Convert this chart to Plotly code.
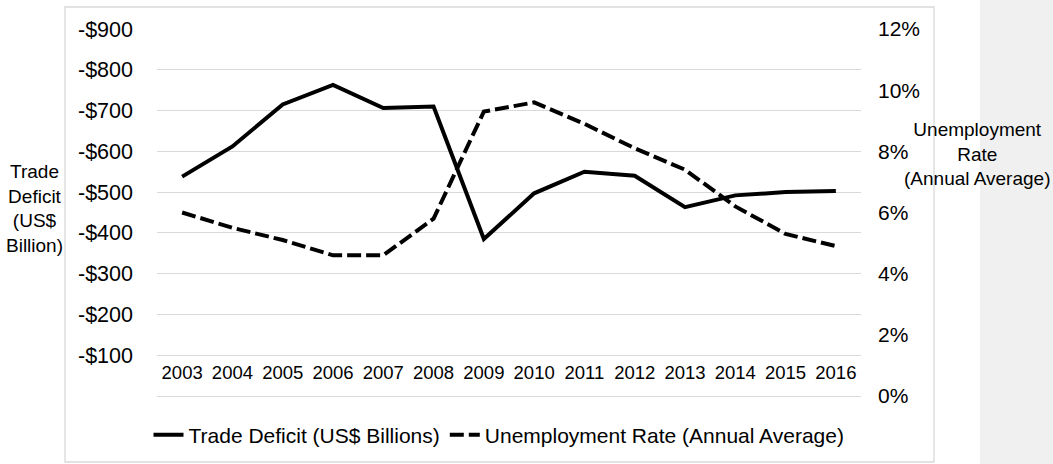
#trade deficit vs unemployment rate, 2003-2016
#%%
import plotly.graph_objects as go

years = ['2003', '2004', '2005', '2006', '2007', '2008', '2009',
         '2010', '2011', '2012', '2013', '2014', '2015', '2016']
#US$ billions
trade_deficit = [-538, -612, -715, -763, -706, -710, -385,
                 -497, -550, -540, -463, -492, -500, -503]
#percent, annual average
unemployment = [6.0, 5.5, 5.1, 4.6, 4.6, 5.8, 9.3,
                9.6, 8.9, 8.1, 7.4, 6.2, 5.3, 4.9]

deficit_ticks = [0, -100, -200, -300, -400, -500, -600, -700, -800, -900]
deficit_labels = ['', '-$100', '-$200', '-$300', '-$400', '-$500', '-$600', '-$700', '-$800', '-$900']
rate_ticks = [0, 2, 4, 6, 8, 10, 12]
rate_labels = ['0%', '2%', '4%', '6%', '8%', '10%', '12%']

# %%
#figure size and margins in px, so shapes/annotations can be placed in px
W, H = 1053, 464
L, R, T, B = 157, 192, 29, 68
PW, PH = W - L - R, H - T - B

def px(x):
    return (x - L) / PW

def py(y):
    return (H - B - y) / PH

FONT = 'Arial, Liberation Sans, sans-serif'
GRID = '#d9d9d9'

fig = go.Figure()

fig.add_trace(go.Scatter(
    x=years, y=trade_deficit,
    name='Trade Deficit (US$ Billions)',
    mode='lines',
    line=dict(color='black', width=4),
    yaxis='y'
))

fig.add_trace(go.Scatter(
    x=years, y=unemployment,
    name='Unemployment Rate (Annual Average)',
    mode='lines',
    line=dict(color='black', width=4, dash='14px,5px'),
    yaxis='y2'
))

fig.update_layout(
    width=W, height=H,
    margin=dict(l=L, r=R, t=T, b=B, autoexpand=False),
    paper_bgcolor='white',
    plot_bgcolor='white',
    font=dict(family=FONT, size=19, color='black'),
    showlegend=True,
    legend=dict(
        orientation='h',
        x=px(499), xanchor='center',
        y=py(435), yanchor='middle',
        font=dict(size=21),
        bgcolor='rgba(0,0,0,0)'
    ),
    xaxis=dict(
        type='category',
        range=[-0.5, len(years) - 0.5],
        showgrid=False,
        showline=False,
        zeroline=False,
        ticks='',
        tickfont=dict(size=18.5),
        ticklabelstandoff=-37,
    ),
    yaxis=dict(
        range=[0, -900],
        tickvals=deficit_ticks,
        ticktext=deficit_labels,
        showgrid=True,
        gridcolor=GRID,
        gridwidth=1.3,
        zeroline=True,
        zerolinecolor=GRID,
        zerolinewidth=1.3,
        showline=False,
        ticks='',
        tickfont=dict(size=21.5),
        ticklabelstandoff=23,
    ),
    yaxis2=dict(
        overlaying='y',
        side='right',
        range=[0, 12],
        tickvals=rate_ticks,
        ticktext=rate_labels,
        showgrid=False,
        zeroline=False,
        showline=False,
        ticks='',
        tickfont=dict(size=21),
        ticklabelstandoff=16,
    ),
)

#chart area border and the grey panel on the right edge
fig.add_shape(type='rect', xref='paper', yref='paper',
              x0=px(980), x1=px(W + 5), y0=py(H + 5), y1=py(-5),
              fillcolor='#f0f0f0', line=dict(width=0), layer='below')
fig.add_shape(type='rect', xref='paper', yref='paper',
              x0=px(65), x1=px(934), y0=py(462), y1=py(7),
              line=dict(color=GRID, width=1.3), layer='below')

#axis titles, written horizontally like the original
fig.add_annotation(text='Trade<br>Deficit<br>(US$<br>Billion)',
                   xref='paper', yref='paper', x=px(35), y=py(208),
                   xanchor='center', yanchor='middle', align='center',
                   showarrow=False, font=dict(size=19))
fig.add_annotation(text='Unemployment<br>Rate<br>(Annual Average)',
                   xref='paper', yref='paper', x=px(977), y=py(154),
                   xanchor='center', yanchor='middle', align='center',
                   showarrow=False, font=dict(size=19))

#drop the default 8px page margin so the figure sits at the window corner
fig.write_html('out.html', config={'displayModeBar': False},
               post_script="document.body.style.margin='0';")
